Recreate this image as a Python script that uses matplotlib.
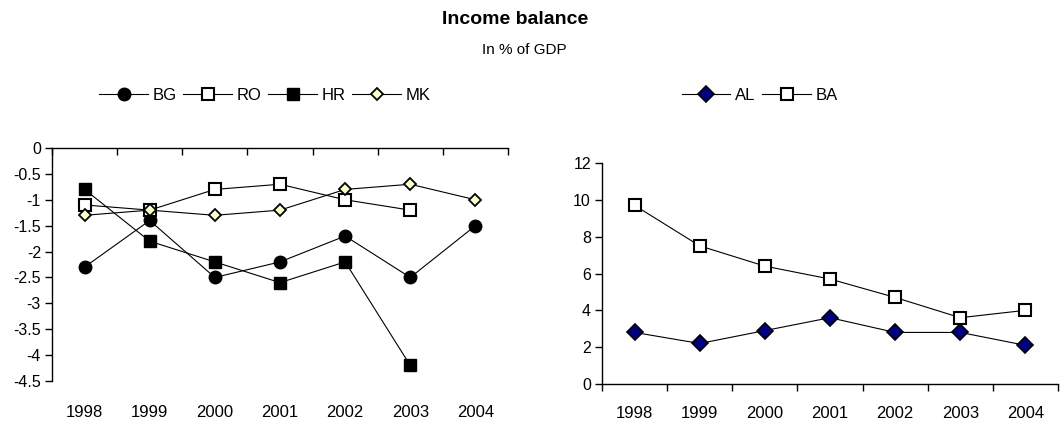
import matplotlib
matplotlib.use("Agg")
import matplotlib.pyplot as plt
import numpy as np
from matplotlib.ticker import FixedLocator

plt.rcParams['font.family'] = ['Liberation Sans', 'DejaVu Sans']

years = ["1998", "1999", "2000", "2001", "2002", "2003", "2004"]
bg = [-2.3, -1.4, -2.5, -2.2, -1.7, -2.5, -1.5]
ro = [-1.1, -1.2, -0.8, -0.7, -1.0, -1.2, np.nan]
hr = [-0.8, -1.8, -2.2, -2.6, -2.2, -4.2, np.nan]
mk = [-1.3, -1.2, -1.3, -1.2, -0.8, -0.7, -1.0]
al = [2.8, 2.2, 2.9, 3.6, 2.8, 2.8, 2.1]
ba = [9.7, 7.5, 6.4, 5.7, 4.7, 3.6, 4.0]
left_yticks = [-4.5, -4, -3.5, -3, -2.5, -2, -1.5, -1, -0.5, 0]
left_ylabels = ['-4.5', '-4', '-3.5', '-3', '-2.5', '-2', '-1.5', '-1', '-0.5', '0']
right_yticks = [0, 2, 4, 6, 8, 10, 12]

W, H = 1061, 421
fig = plt.figure(figsize=(W / 100, H / 100), dpi=100)

def fx(px):
    return px / W

def fy(py):
    return 1 - py / H

XFS = 12
YFS = 11.5
LFS = 12
x = np.arange(len(years))
lw = 0.8

# Left axes
axL = fig.add_axes([fx(52), fy(381), fx(508) - fx(52), fy(148) - fy(381)])
hL = []
hL.append(axL.plot(x, bg, color='black', lw=lw, marker='o', ms=9, mfc='black', mec='black', label='BG')[0])
hL.append(axL.plot(x, ro, color='black', lw=lw, marker='s', ms=8.5, mfc='white', mec='black', mew=1.5, label='RO')[0])
hL.append(axL.plot(x, hr, color='black', lw=lw, marker='s', ms=9, mfc='black', mec='black', label='HR')[0])
hL.append(axL.plot(x, mk, color='black', lw=lw, marker='D', ms=6, mfc='#FFFFCC', mec='black', mew=1.3, label='MK')[0])
axL.set_xlim(-0.5, 6.5)
axL.set_ylim(-4.5, 0)
axL.set_yticks(left_yticks)
axL.set_yticklabels(left_ylabels)
for s in ['right', 'bottom']:
    axL.spines[s].set_visible(False)
for s in ['left', 'top']:
    axL.spines[s].set_linewidth(1.0)
axL.set_xticks(x)
axL.set_xticklabels(years)
axL.xaxis.set_minor_locator(FixedLocator(np.arange(-0.5, 7, 1)))
axL.tick_params(axis='x', which='major', bottom=False, top=False, labelbottom=True, pad=14, labelsize=XFS)
axL.tick_params(axis='x', which='minor', bottom=False, top=True, direction='in', length=5, width=1)
axL.tick_params(axis='y', direction='out', length=5, width=1, labelsize=YFS, pad=3)

# Right axes
axR = fig.add_axes([fx(602), fy(384), fx(1058) - fx(602), fy(163) - fy(384)])
hR = []
hR.append(axR.plot(x, al, color='black', lw=lw, marker='D', ms=8, mfc='#000080', mec='black', mew=1.2, label='AL')[0])
hR.append(axR.plot(x, ba, color='black', lw=lw, marker='s', ms=8.5, mfc='white', mec='black', mew=1.5, label='BA')[0])
axR.set_xlim(-0.5, 6.5)
axR.set_ylim(0, 12)
axR.set_yticks(right_yticks)
for s in ['right', 'top']:
    axR.spines[s].set_visible(False)
for s in ['left', 'bottom']:
    axR.spines[s].set_linewidth(1.0)
axR.set_xticks(x)
axR.set_xticklabels(years)
axR.xaxis.set_minor_locator(FixedLocator(np.arange(-0.5, 7, 1)))
axR.tick_params(axis='x', which='major', bottom=False, top=False, labelbottom=True, pad=12, labelsize=XFS)
axR.tick_params(axis='x', which='minor', bottom=True, direction='out', length=5, width=1)
axR.tick_params(axis='y', direction='out', length=5, width=1, labelsize=YFS, pad=3)

# Legends
fig.legend(handles=hL, loc='center', bbox_to_anchor=(fx(265), fy(95)), ncol=4, frameon=False,
           fontsize=LFS, handlelength=2.9, handletextpad=0.3, columnspacing=0.4, borderaxespad=0)
fig.legend(handles=hR, loc='center', bbox_to_anchor=(fx(760), fy(95)), ncol=2, frameon=False,
           fontsize=LFS, handlelength=2.9, handletextpad=0.3, columnspacing=0.4, borderaxespad=0)

# Titles
fig.text(fx(515), fy(20), 'Income balance', ha='center', va='center', fontsize=14, fontweight='bold')
fig.text(fx(524), fy(50), 'In % of GDP', ha='center', va='center', fontsize=11)

fig.savefig('out.png', dpi=100)
